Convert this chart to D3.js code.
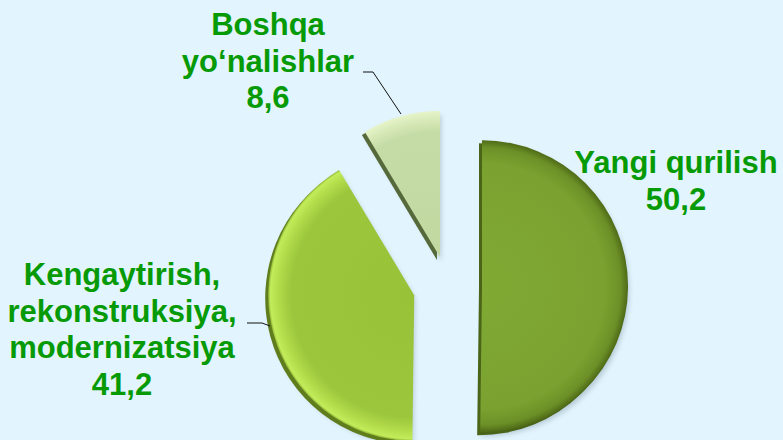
<!DOCTYPE html>
<html>
<head>
<meta charset="utf-8">
<script src="https://cdn.jsdelivr.net/npm/d3@7"></script>
<style>
  html, body { margin: 0; padding: 0; background: #e2f4fd; }
  svg { display: block; }
  text { font-family: "Liberation Sans", Arial, sans-serif; font-weight: bold; fill: #069a06; }
</style>
</head>
<body>
<div id="chart"></div>
<script>
// ---- data ----
const categories = ["Yangi qurilish", "Kengaytirish, rekonstruksiya, modernizatsiya", "Boshqa yo‘nalishlar"];
const values = [50.2, 41.2, 8.6];
const labelLines = [["Yangi qurilish"], ["Kengaytirish,", "rekonstruksiya,", "modernizatsiya"], ["Boshqa", "yo‘nalishlar"]];
const valueLabels = ["50,2", "41,2", "8,6"];

// ---- layout / style ----
const W = 783, H = 440;
const cx = 448, cy = 286, R = 146;
const explode = [34, 35, 30];
const fills = [
  { stops: [[0, "#80a934"], [0.84, "#7ba230"], [0.95, "#6c9027"], [1, "#4e6a17"]] },
  { stops: [[0, "#98c238"], [0.84, "#9cc63c"], [0.93, "#b2dc4a"], [0.985, "#c3ec5a"], [1, "#8fb534"]] },
  { stops: [[0, "#c2d8a1"], [0.86, "#c6dca6"], [0.95, "#d9ebba"], [1, "#e6f4c9"]] }
];
const labelPos = [
  { x: 676, y: 173 },
  { x: 122, y: 285 },
  { x: 268, y: 35 }
];
const lineH = 36.7;
const leaders = [
  null,
  [[247, 323], [262, 323], [270, 326]],
  [[363, 72], [373, 72], [401, 114]]
];

const svg = d3.select("#chart").append("svg").attr("width", W).attr("height", H);
svg.append("rect").attr("width", W).attr("height", H).attr("fill", "#e2f4fd");

const defs = svg.append("defs");
const f = defs.append("filter").attr("id", "ds").attr("x", "-20%").attr("y", "-20%").attr("width", "140%").attr("height", "140%");
f.append("feGaussianBlur").attr("stdDeviation", 2.5);

fills.forEach((fl, i) => {
  const g = defs.append("radialGradient").attr("id", "g" + i)
    .attr("gradientUnits", "userSpaceOnUse").attr("cx", 0).attr("cy", 0).attr("r", R);
  fl.stops.forEach(s => g.append("stop").attr("offset", s[0]).attr("stop-color", s[1]));
});

const pie = d3.pie().sort(null).value(d => d).startAngle(0).endAngle(2 * Math.PI);
const arcs = pie(values);
const arc = d3.arc().innerRadius(0).outerRadius(R);

const slices = svg.append("g").selectAll("g").data(arcs).join("g")
  .attr("transform", (d, i) => {
    const m = (d.startAngle + d.endAngle) / 2;
    return `translate(${cx + Math.sin(m) * explode[i]},${cy - Math.cos(m) * explode[i]})`;
  });

// soft drop shadow
slices.append("path").attr("d", arc).attr("fill", "#7f99a8").attr("opacity", 0.45)
  .attr("transform", "translate(1,4)").attr("filter", "url(#ds)");
// thickness edge
slices.append("path").attr("d", arc).attr("fill", (d, i) => ["#4a6418", "#5f7d1c", "#56693a"][i])
  .attr("transform", "translate(-3,3)");
// face
slices.append("path").attr("d", arc).attr("fill", (d, i) => `url(#g${i})`);

// leader lines
const line = d3.line();
leaders.forEach(l => {
  if (!l) return;
  svg.append("path").attr("d", line(l)).attr("fill", "none").attr("stroke", "#111").attr("stroke-width", 1);
});

// labels
labelLines.forEach((lines, i) => {
  const t = svg.append("text").attr("text-anchor", "middle").attr("font-size", 31);
  lines.concat([valueLabels[i]]).forEach((s, k) => {
    t.append("tspan").attr("x", labelPos[i].x).attr("y", labelPos[i].y + k * lineH).text(s);
  });
});
</script>
</body>
</html>
